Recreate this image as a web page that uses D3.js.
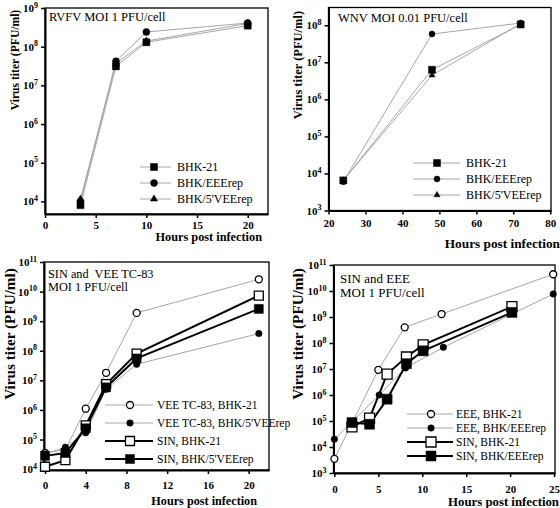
<!DOCTYPE html>
<html><head><meta charset="utf-8">
<script src="https://cdn.jsdelivr.net/npm/d3@7"></script>
<style>body{margin:0;background:#fff} svg{display:block}</style>
</head><body><svg id="c" width="560" height="508"></svg>
<script>
// ---------- DATA ----------
const rvfvHours = [3.5, 7, 10, 20];
const rvfvBHK21 = [8e3, 3.1e7, 1.3e8, 3.5e8];
const rvfvEEErep = [1.0e4, 4.2e7, 2.4e8, 4.1e8];
const rvfvVEErep = [1.15e4, 3.7e7, 1.4e8, 4.0e8];

const wnvHours = [24, 48, 72];
const wnvBHK21 = [6.5e3, 6.3e6, 1.05e8];
const wnvEEErep = [6.0e3, 5.8e7, 1.15e8];
const wnvVEErep = [6.5e3, 4.5e6, 1.1e8];

const sinVeeHours = [0, 2, 4, 6, 9, 21];
const veeBHK21 = [3.5e4, 4.5e4, 1.1e6, 1.8e7, 1.9e9, 2.6e10];
const veeVEErep = [3.2e4, 5.5e4, 1.7e5, 5.0e6, 3.5e7, 3.8e8];
const sinBHK21a = [1.2e4, 2.0e4, 3.0e5, 7.4e6, 8.0e7, 7.3e9];
const sinVEErep = [2.8e4, 3.5e4, 2.4e5, 5.8e6, 5.5e7, 2.6e9];

const eeeHoursA = [0, 5, 8, 12.2, 24.9];
const eeeBHK21 = [3.5e3, 9.3e6, 4.0e8, 1.3e9, 4.4e10];
const eeeHoursB = [0, 5.1, 8.1, 12.4, 24.9];
const eeeEEErep = [2.0e4, 1.0e6, 1.1e7, 6.8e7, 7.7e9];
const sinHoursB = [2, 4, 6, 8.2, 10.1, 20.2];
const sinBHK21b = [5.9e4, 1.3e5, 6.4e6, 2.9e7, 8.5e7, 2.5e9];
const sinEEErep = [8.7e4, 7.5e4, 6.9e5, 1.6e7, 5.0e7, 1.5e9];

const xTicks1 = [0, 5, 10, 15, 20];
const xTicks2 = [20, 30, 40, 50, 60, 70, 80];
const xTicks3 = [0, 4, 8, 12, 16, 20];
const xTicks4 = [0, 5, 10, 15, 20, 25];
const yExp1 = [4, 5, 6, 7, 8, 9];
const yExp2 = [3, 4, 5, 6, 7, 8];
const yExp3 = [4, 5, 6, 7, 8, 9, 10, 11];
const yExp4 = [3, 4, 5, 6, 7, 8, 9, 10, 11];

// ---------- DRAWING ----------
const svg = d3.select('#c');
const SERIF = "'Liberation Serif','Times New Roman',serif";
const GRAY = '#a6a6a6';

function marker(g, shape, filled, size, cx, cy) {
  const types = {square: d3.symbolSquare, circle: d3.symbolCircle, triangle: d3.symbolTriangle};
  const area = shape === 'circle' ? Math.PI * size * size / 4 : shape === 'triangle' ? size * size * 0.45 : size * size;
  g.append('path')
    .attr('d', d3.symbol().type(types[shape]).size(area)())
    .attr('transform', `translate(${cx},${cy})`)
    .attr('fill', filled ? '#000' : '#fff')
    .attr('stroke', '#000')
    .attr('stroke-width', filled ? 0.5 : 1.3);
}

function panel(cfg) {
  const g = svg.append('g');
  const x = d3.scaleLinear().domain(cfg.xDomain).range([cfg.left, cfg.right]);
  const y = d3.scaleLog().domain(cfg.yDomain).range([cfg.bottom, cfg.top]);

  // frame
  g.append('rect').attr('x', cfg.left).attr('y', cfg.top)
    .attr('width', cfg.right - cfg.left).attr('height', cfg.bottom - cfg.top)
    .attr('fill', 'none').attr('stroke', '#000').attr('stroke-width', 1.3);

  // x axis
  const xa = g.append('g').attr('transform', `translate(0,${cfg.bottom})`)
    .call(d3.axisBottom(x).tickValues(cfg.xTicks).tickSize(4).tickSizeOuter(0).tickPadding(cfg.xPad));
  xa.select('.domain').attr('stroke-width', 2);
  xa.selectAll('.tick line').attr('stroke-width', 1.5);
  xa.selectAll('text').attr('font-family', SERIF).attr('font-weight', 'bold').attr('font-size', 11);

  // y axis
  const ya = g.append('g').attr('transform', `translate(${cfg.left},0)`)
    .call(d3.axisLeft(y).tickValues(cfg.yExp.map(e => Math.pow(10, e))).tickSize(4).tickSizeOuter(0).tickPadding(3).tickFormat(''));
  ya.select('.domain').attr('stroke-width', 2);
  ya.selectAll('.tick line').attr('stroke-width', 1.5);
  ya.selectAll('.tick').each(function(d) {
    const t = d3.select(this).select('text')
      .attr('font-family', SERIF).attr('font-weight', 'bold').attr('font-size', 11)
      .attr('dy', '0.32em');
    t.append('tspan').text('10');
    t.append('tspan').attr('font-size', 8).attr('dy', '-0.55em').text(Math.round(Math.log10(d)));
  });

  // axis titles
  g.append('text').attr('transform', `translate(${cfg.yTitle[0]},${cfg.yTitle[1]}) rotate(-90)`)
    .attr('text-anchor', 'middle').attr('dominant-baseline', 'central')
    .attr('font-family', SERIF).attr('font-weight', 'bold').attr('font-size', cfg.yTitleSize)
    .text('Virus titer (PFU/ml)');
  g.append('text').attr('x', cfg.xTitle[0]).attr('y', cfg.xTitle[1])
    .attr('text-anchor', 'end')
    .attr('font-family', SERIF).attr('font-weight', 'bold').attr('font-size', cfg.xTitleSize)
    .text('Hours post infection');

  // panel title
  cfg.title.forEach((ln, i) => {
    g.append('text').attr('x', cfg.titlePos[0]).attr('y', cfg.titlePos[1] + i * cfg.titleLead)
      .attr('font-family', SERIF).attr('font-size', cfg.titleSize).attr('xml:space', 'preserve').text(ln);
  });

  // lines
  const line = d3.line().x(d => x(d[0])).y(d => y(d[1]));
  const ordered = cfg.series.slice().sort((a, b) => (a.thick ? 1 : 0) - (b.thick ? 1 : 0));
  ordered.forEach(s => {
    const pts = s.hours.map((h, i) => [h, s.values[i]]);
    g.append('path').attr('d', line(pts)).attr('fill', 'none')
      .attr('stroke', s.thick ? '#000' : GRAY).attr('stroke-width', s.thick ? 2 : 1);
  });
  ordered.forEach(s => {
    s.hours.forEach((h, i) => marker(g, s.shape, s.filled, s.size, x(h), y(s.values[i])));
  });

  // legend
  const L = cfg.legend;
  cfg.series.forEach((s, i) => {
    const yy = L.y0 + i * L.dy;
    g.append('line').attr('x1', L.x1).attr('x2', L.x2).attr('y1', yy).attr('y2', yy)
      .attr('stroke', s.thick ? '#000' : GRAY).attr('stroke-width', s.thick ? 2 : 1);
    marker(g, s.shape, s.filled, s.size, L.xm, yy);
    g.append('text').attr('x', L.xt).attr('y', yy).attr('dy', '0.35em')
      .attr('font-family', SERIF).attr('font-size', L.size).text(s.label);
  });
}

panel({
  left: 45, right: 268, top: 8, bottom: 214,
  xDomain: [0, 22], yDomain: [Math.pow(10, 3.675), 1e9],
  xTicks: xTicks1, yExp: yExp1, xPad: 3,
  yTitle: [15, 60], yTitleSize: 11.6, xTitle: [262, 241], xTitleSize: 12.3,
  title: ['RVFV MOI 1 PFU/cell'], titlePos: [49, 21], titleSize: 12.5, titleLead: 0,
  series: [
    {label: 'BHK-21', hours: rvfvHours, values: rvfvBHK21, shape: 'square', filled: true, size: 7},
    {label: 'BHK/EEErep', hours: rvfvHours, values: rvfvEEErep, shape: 'circle', filled: true, size: 7},
    {label: "BHK/5'VEErep", hours: rvfvHours, values: rvfvVEErep, shape: 'triangle', filled: true, size: 7}
  ],
  legend: {x1: 140, x2: 171, xm: 154, xt: 177, y0: 167, dy: 16, size: 12}
});

panel({
  left: 328.5, right: 551, top: 7.5, bottom: 210.5,
  xDomain: [20, 80.2], yDomain: [1e3, Math.pow(10, 8.48)],
  xTicks: xTicks2, yExp: yExp2, xPad: 5,
  yTitle: [298, 65], yTitleSize: 12.5, xTitle: [560, 248], xTitleSize: 13.3,
  title: ['WNV MOI 0.01 PFU/cell'], titlePos: [338, 22], titleSize: 12.5, titleLead: 0,
  series: [
    {label: 'BHK-21', hours: wnvHours, values: wnvBHK21, shape: 'square', filled: true, size: 7},
    {label: 'BHK/EEErep', hours: wnvHours, values: wnvEEErep, shape: 'circle', filled: true, size: 6},
    {label: "BHK/5'VEErep", hours: wnvHours, values: wnvVEErep, shape: 'triangle', filled: true, size: 6}
  ],
  legend: {x1: 413, x2: 460, xm: 437, xt: 466, y0: 163, dy: 16, size: 12}
});

panel({
  left: 44, right: 269, top: 262, bottom: 470,
  xDomain: [-0.1, 22], yDomain: [Math.pow(10, 3.97), 1e11],
  xTicks: xTicks3, yExp: yExp3, xPad: 7,
  yTitle: [9, 334], yTitleSize: 15.2, xTitle: [257, 505], xTitleSize: 12.2,
  title: ['SIN and  VEE TC-83', 'MOI 1 PFU/cell'], titlePos: [48, 278], titleSize: 12.3, titleLead: 12.5,
  series: [
    {label: 'VEE TC-83, BHK-21', hours: sinVeeHours, values: veeBHK21, shape: 'circle', filled: false, size: 7},
    {label: "VEE TC-83, BHK/5'VEErep", hours: sinVeeHours, values: veeVEErep, shape: 'circle', filled: true, size: 6.5},
    {label: 'SIN, BHK-21', hours: sinVeeHours, values: sinBHK21a, shape: 'square', filled: false, size: 9, thick: true},
    {label: "SIN, BHK/5'VEErep", hours: sinVeeHours, values: sinVEErep, shape: 'square', filled: true, size: 9, thick: true}
  ],
  legend: {x1: 105, x2: 153, xm: 130, xt: 157, y0: 405, dy: 18, size: 11.5}
});

panel({
  left: 333.5, right: 555, top: 265, bottom: 473,
  xDomain: [-0.1, 25.1], yDomain: [1e3, 1e11],
  xTicks: xTicks4, yExp: yExp4, xPad: 8,
  yTitle: [297, 334], yTitleSize: 15.2, xTitle: [559, 506], xTitleSize: 12.8,
  title: ['SIN and EEE', 'MOI 1 PFU/cell'], titlePos: [340, 283], titleSize: 13, titleLead: 13.5,
  series: [
    {label: 'EEE, BHK-21', hours: eeeHoursA, values: eeeBHK21, shape: 'circle', filled: false, size: 7},
    {label: 'EEE, BHK/EEErep', hours: eeeHoursB, values: eeeEEErep, shape: 'circle', filled: true, size: 6.5},
    {label: 'SIN, BHK-21', hours: sinHoursB, values: sinBHK21b, shape: 'square', filled: false, size: 10, thick: true},
    {label: 'SIN, BHK/EEErep', hours: sinHoursB, values: sinEEErep, shape: 'square', filled: true, size: 10, thick: true}
  ],
  legend: {x1: 407, x2: 453, xm: 431, xt: 456, y0: 414, dy: 14, size: 11.5}
});
</script></body></html>
